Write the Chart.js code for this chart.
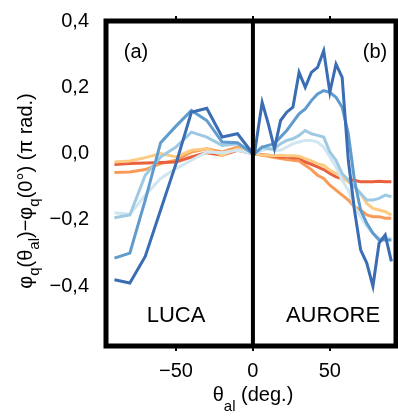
<!DOCTYPE html>
<html>
<head>
<meta charset="utf-8">
<script src="https://cdn.jsdelivr.net/npm/chart.js@4.4.1/dist/chart.umd.min.js"></script>
<style>
body { margin: 0; background: #fff; }
</style>
</head>
<body>
<canvas id="myChart" width="398" height="416"></canvas>
<script>
// angles (deg.) for each panel
var xLuca = [-90, -80, -70, -60, -50, -40, -30, -20, -10, 0];
var xAurore = [1, 6, 10, 14, 18, 22, 26, 30, 34, 38, 42, 46, 50, 54, 58, 62, 66, 70, 74, 78, 82, 86, 90];

var xTicks = [-50, 0, 50];
var yTicks = [0.4, 0.2, 0, -0.2, -0.4];

// phase shift (pi rad.), LUCA panel
var lucaDark = [-0.38, -0.39, -0.31, -0.17, -0.03, 0.125, 0.137, 0.05, 0.06, 0];
var lucaMid = [-0.315, -0.30, -0.14, 0.033, 0.083, 0.13, 0.10, 0.035, 0.033, 0];
var lucaLight = [-0.193, -0.185, -0.065, -0.01, 0.02, 0.065, 0.05, 0.025, 0.03, 0];
var lucaPale = [-0.178, -0.183, -0.125, -0.075, -0.045, -0.02, 0.005, 0.003, 0.01, 0];
var lucaYellow = [-0.025, -0.022, -0.012, 0.0, -0.01, 0.01, 0.015, -0.005, 0.015, 0];
var lucaOrange = [-0.057, -0.055, -0.048, -0.03, -0.02, 0.005, 0.015, 0.005, 0.02, 0.01];
var lucaRed = [-0.033, -0.03, -0.028, -0.027, -0.025, -0.01, 0.003, -0.005, 0.01, 0];

// phase shift (pi rad.), AURORE panel
var aurDark = [0, 0.155, 0.09, 0.015, 0.1, 0.125, 0.14, 0.245, 0.2, 0.245, 0.26, 0.31,
  0.185, 0.27, 0.23, -0.02, -0.17, -0.29, -0.33, -0.40, -0.27, -0.245, -0.325];
var aurMid = [0, 0.02, 0.025, 0.03, 0.05, 0.07, 0.095, 0.12, 0.135, 0.16, 0.18, 0.19,
  0.185, 0.17, 0.14, 0.06, -0.08, -0.17, -0.21, -0.24, -0.26, -0.26, -0.26];
var aurLight = [0, 0.02, 0.015, 0.015, 0.03, 0.04, 0.045, 0.055, 0.07, 0.06, 0.055, 0.05,
  0.005, -0.02, -0.06, -0.08, -0.10, -0.12, -0.14, -0.14, -0.135, -0.125, -0.13];
var aurPale = [0, 0.01, 0.015, 0.01, 0.01, 0.02, 0.03, 0.035, 0.04, 0.04, 0.035, 0.02,
  -0.01, -0.04, -0.08, -0.11, -0.16, -0.19, -0.22, -0.24, -0.255, -0.255, -0.255];
var aurYellow = [0, -0.005, -0.005, -0.006, -0.005, -0.006, -0.006, -0.008, -0.015, -0.022, -0.03, -0.035,
  -0.05, -0.06, -0.07, -0.085, -0.10, -0.12, -0.15, -0.165, -0.17, -0.175, -0.185];
var aurOrange = [0, -0.005, -0.008, -0.012, -0.015, -0.018, -0.02, -0.022, -0.035, -0.048, -0.065, -0.075,
  -0.095, -0.11, -0.125, -0.14, -0.16, -0.17, -0.185, -0.19, -0.19, -0.195, -0.195];
var aurRed = [0, -0.003, -0.005, -0.008, -0.01, -0.01, -0.012, -0.013, -0.025, -0.032, -0.04, -0.048,
  -0.06, -0.07, -0.075, -0.078, -0.08, -0.085, -0.085, -0.085, -0.083, -0.085, -0.085];

var FONT = "'Liberation Sans', Arial, sans-serif";

function joinSeries(left, right) {
    var pts = [];
    xLuca.forEach(function (x, i) { pts.push({ x: x, y: left[i] }); });
    xAurore.forEach(function (x, i) { pts.push({ x: x, y: right[i] }); });
    return pts;
}

function makeSet(left, right, color) {
    return {
        data: joinSeries(left, right),
        borderColor: color,
        backgroundColor: color,
        borderWidth: 3,
        pointRadius: 0,
        tension: 0,
        borderJoinStyle: "miter",
    };
}

// first dataset is drawn on top
var datasets = [
    makeSet(lucaDark, aurDark, "#3b6db4"),
    makeSet(lucaMid, aurMid, "#5f9bcd"),
    makeSet(lucaLight, aurLight, "#9dcae2"),
    makeSet(lucaPale, aurPale, "#d0e6f1"),
    makeSet(lucaYellow, aurYellow, "#fdca80"),
    makeSet(lucaRed, aurRed, "#e9603d"),
    makeSet(lucaOrange, aurOrange, "#f99b58"),
];

function fmt(v) {
    return v.toString().replace(".", ",").replace("-", "\u2212");
}

// text with subscripts: parts = [[text, isSub], ...]
function drawRich(ctx, parts, cx, baseY, size, subSize, subDrop) {
    var total = 0;
    parts.forEach(function (p) {
        ctx.font = (p[1] ? subSize : size) + "px " + FONT;
        total += ctx.measureText(p[0]).width;
    });
    var x = cx - total / 2;
    parts.forEach(function (p) {
        ctx.font = (p[1] ? subSize : size) + "px " + FONT;
        ctx.fillText(p[0], x, p[1] ? baseY + subDrop : baseY);
        x += ctx.measureText(p[0]).width;
    });
}

var framePlugin = {
    id: "frame",
    afterDatasetsDraw: function (chart) {
        var ctx = chart.ctx;
        var a = chart.chartArea;
        var zero = chart.scales.x.getPixelForValue(0);
        ctx.save();
        ctx.strokeStyle = "#000";
        ctx.lineWidth = 5;
        ctx.strokeRect(a.left, a.top, a.right - a.left, a.bottom - a.top);
        ctx.lineWidth = 4;
        ctx.beginPath();
        ctx.moveTo(zero, a.top);
        ctx.lineTo(zero, a.bottom);
        ctx.stroke();

        ctx.fillStyle = "#000";
        ctx.textAlign = "center";
        ctx.textBaseline = "middle";
        ctx.font = "20px " + FONT;
        ctx.fillText("(a)", 136, 52);
        ctx.fillText("(b)", 375, 52);
        ctx.font = "22px " + FONT;
        ctx.fillText("LUCA", 176, 316);
        ctx.fillText("AURORE", 333, 316);

        // axis titles
        ctx.textAlign = "left";
        ctx.textBaseline = "alphabetic";
        drawRich(ctx, [["\u03b8", false], ["al", true], [" (deg.)", false]], 253, 401, 20, 15, 10);

        ctx.translate(32, 191);
        ctx.rotate(-Math.PI / 2);
        drawRich(ctx, [
            ["\u03c6", false], ["q", true], ["(\u03b8", false], ["al", true],
            [")\u2212\u03c6", false], ["q", true], ["(0\u00b0) (\u03c0 rad.)", false]
        ], 0, 0, 20, 15, 7);
        ctx.restore();
    },
};

var config = {
    type: "line",
    data: { datasets: datasets },
    options: {
        responsive: false,
        animation: false,
        layout: { padding: { left: 6, right: 2, top: 15, bottom: 0 } },
        plugins: { legend: { display: false }, tooltip: { enabled: false } },
        scales: {
            x: {
                type: "linear",
                min: -95.5,
                max: 93,
                afterFit: function (s) { s.height = 70; },
                afterBuildTicks: function (s) {
                    s.ticks = xTicks.map(function (v) { return { value: v }; });
                },
                border: { display: false },
                grid: { drawOnChartArea: false, tickLength: 5, lineWidth: 2, color: "#000" },
                ticks: {
                    color: "#000",
                    padding: 8,
                    font: { family: FONT, size: 20 },
                    maxRotation: 0,
                    callback: function (v) { return fmt(v); },
                },
            },
            x2: {
                type: "linear",
                position: "top",
                min: -95.5,
                max: 93,
                afterFit: function (s) { s.height = 0; },
                afterBuildTicks: function (s) {
                    s.ticks = xTicks.map(function (v) { return { value: v }; });
                },
                border: { display: false },
                grid: { drawOnChartArea: false, tickLength: 5, lineWidth: 2, color: "#000" },
                ticks: { display: false },
            },
            y: {
                min: -0.58,
                max: 0.4,
                afterFit: function (s) { s.width = 100; },
                afterBuildTicks: function (s) {
                    s.ticks = yTicks.map(function (v) { return { value: v }; });
                },
                border: { display: false },
                grid: { display: false },
                ticks: {
                    color: "#000",
                    padding: 9,
                    font: { family: FONT, size: 20 },
                    callback: function (v) { return fmt(v.toFixed(1)); },
                },
            },
        },
    },
    plugins: [framePlugin],
};

var ctx = document.getElementById("myChart").getContext("2d");
var myChart = new Chart(ctx, config);
</script>
</body>
</html>
